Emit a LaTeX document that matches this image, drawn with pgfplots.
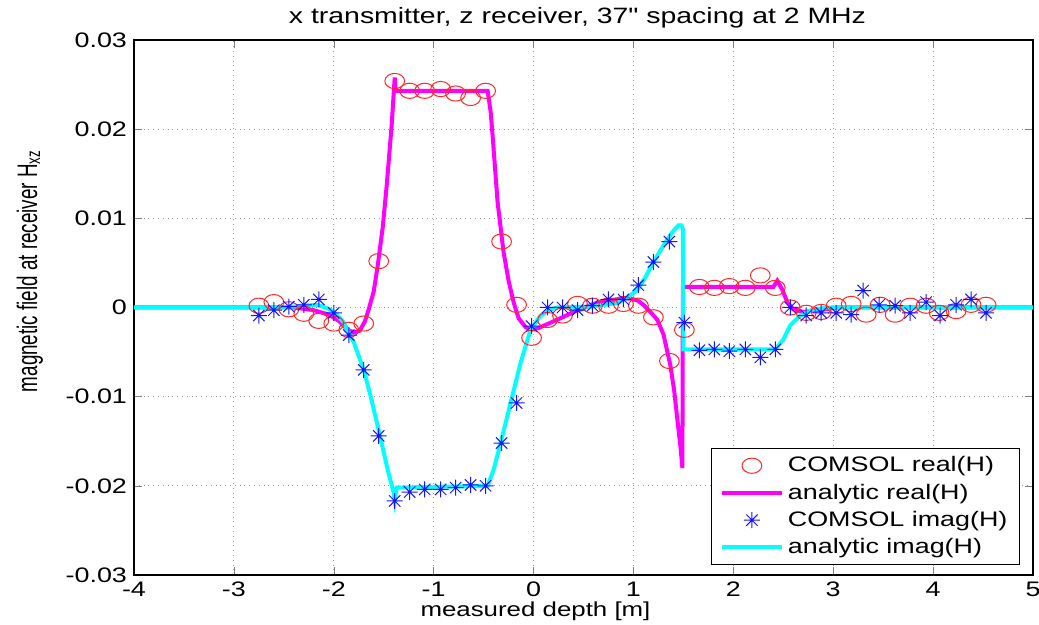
\documentclass[border=0pt]{standalone}
\usepackage{fontspec}
\usepackage{graphicx}
\setmainfont{Liberation Sans}
\newfontfamily\widefont[FakeStretch=1.28]{Liberation Sans}
\usepackage{pgfplots}
\pgfplotsset{compat=1.18}
\definecolor{mlred}{RGB}{255,40,40}
\definecolor{mlblue}{RGB}{20,20,255}
\definecolor{mlmag}{RGB}{255,0,255}
\definecolor{mlcyan}{RGB}{0,255,255}

% 8-spoke asterisk like MATLAB's '*'
\pgfdeclareplotmark{ast8}{%
  \pgfpathmoveto{\pgfqpoint{-\pgfplotmarksize}{0pt}}\pgfpathlineto{\pgfqpoint{\pgfplotmarksize}{0pt}}%
  \pgfpathmoveto{\pgfqpoint{0pt}{-\pgfplotmarksize}}\pgfpathlineto{\pgfqpoint{0pt}{\pgfplotmarksize}}%
  \pgfpathmoveto{\pgfqpoint{-0.707\pgfplotmarksize}{-0.707\pgfplotmarksize}}\pgfpathlineto{\pgfqpoint{0.707\pgfplotmarksize}{0.707\pgfplotmarksize}}%
  \pgfpathmoveto{\pgfqpoint{-0.707\pgfplotmarksize}{0.707\pgfplotmarksize}}\pgfpathlineto{\pgfqpoint{0.707\pgfplotmarksize}{-0.707\pgfplotmarksize}}%
  \pgfusepathqstroke}

\begin{document}
\begin{tikzpicture}
\path[use as bounding box] (-67pt,-25pt) rectangle (452.5pt,287.5pt);
\begin{axis}[
  at={(0,0)}, anchor=south west,
  scale only axis, width=449.5pt, height=267.5pt,
  xmin=-4, xmax=5, ymin=-0.03, ymax=0.03,
  xtick={-4,-3,...,5},
  ytick={-0.03,-0.02,-0.01,0,0.01,0.02,0.03},
  yticklabels={-0.03,-0.02,-0.01,0,0.01,0.02,0.03},
  scaled y ticks=false,
  /pgf/number format/assume math mode=true,
  tick label style={font=\widefont\fontsize{10.5}{12}\selectfont},
  tick align=inside, major tick length=4pt,
  grid=major, grid style={dotted, gray!80},
  axis line style={black, line width=0.6pt},
  every axis title shift=0pt,
  title={x transmitter, z receiver, 37" spacing at 2 MHz},
  title style={font=\widefont\fontsize{11.1}{13}\selectfont, at={(axis description cs:0.5,1)}, anchor=base, yshift=8pt, xshift=-3pt},
  xlabel={measured depth [m]},
  xlabel style={font=\widefont\fontsize{10.1}{12}\selectfont, at={(axis description cs:0.5,0)}, anchor=base, yshift=-21pt, xshift=-24pt},
  ylabel={\scalebox{1}[1.5]{magnetic field at receiver H\textsubscript{xz}}},
  ylabel style={font=\fontsize{9.4}{11}\selectfont, at={(axis description cs:-0.116,0.568)}, anchor=center},
  legend style={at={(rel axis cs:0.9855,0.0187)}, anchor=south east,
    font=\widefont\fontsize{10.5}{12}\selectfont, draw=black, line width=0.5pt,
    cells={anchor=west}, row sep=0.5pt, inner xsep=4pt, inner ysep=2pt},
  legend image code/.code={\draw[mark repeat=2,mark phase=2,#1] plot coordinates {(0pt,0pt) (15pt,0pt) (30pt,0pt)};},
]
% COMSOL real(H)
\addplot[only marks, mark=o, mark size=3.8pt, mark options={xscale=1.3, draw=mlred, line width=0.5pt}] coordinates {
(-2.75,0.0002)(-2.60,0.0006)(-2.45,-0.0002)(-2.30,-0.0007)(-2.15,-0.0015)(-2.00,-0.0018)
(-1.85,-0.0025)(-1.70,-0.0018)(-1.55,0.0052)(-1.39,0.0254)(-1.24,0.0243)(-1.09,0.0243)
(-0.93,0.0245)(-0.78,0.0240)(-0.63,0.0235)(-0.48,0.0243)(-0.32,0.0074)(-0.17,0.0003)
(-0.02,-0.0034)(0.14,-0.0014)(0.29,-0.0009)(0.44,0.0004)(0.59,0.0002)(0.75,0.0002)
(0.90,0.0004)(1.05,0.0002)(1.20,-0.0011)(1.36,-0.0060)(1.51,-0.0025)(1.66,0.0023)
(1.81,0.0022)(1.96,0.0024)(2.12,0.0022)(2.27,0.0036)(2.42,0.0022)(2.57,0.0000)
(2.73,-0.0006)(2.88,-0.0005)(3.03,0.0002)(3.18,0.0004)(3.33,-0.0008)(3.47,0.0003)
(3.62,-0.0008)(3.77,0.0002)(3.93,0.0002)(4.06,-0.0006)(4.23,-0.0004)(4.38,0.0003)(4.53,0.0003)};
\addlegendentry{COMSOL real(H)}
% analytic real(H)
\addplot[mlmag, line width=2pt] coordinates {
(-4,0)(-2.4,0)(-2.2,-0.0003)(-2.05,-0.0008)(-1.95,-0.0015)(-1.86,-0.0025)(-1.8,-0.0028)
(-1.74,-0.0026)(-1.69,-0.0016)(-1.65,-0.0002)(-1.6,0.0018)(-1.56,0.0047)(-1.51,0.0090)
(-1.47,0.0137)(-1.42,0.0205)(-1.39,0.0258)(-1.38,0.0243)(-0.46,0.0243)(-0.43,0.0220)
(-0.41,0.0193)(-0.36,0.0118)(-0.30,0.0062)(-0.25,0.0030)(-0.20,0.0006)(-0.15,-0.0012)
(-0.08,-0.0022)(-0.02,-0.0025)(0.05,-0.0023)(0.15,-0.0018)(0.29,-0.0011)(0.44,-0.0003)
(0.6,0.0004)(0.74,0.0008)(0.9,0.0010)(0.97,0.0010)(1.04,0.0008)(1.1,0.0003)(1.17,-0.0005)
(1.24,-0.0014)(1.3,-0.0030)(1.37,-0.0065)(1.41,-0.0095)(1.44,-0.0126)(1.47,-0.0155)
(1.49,-0.0180)(1.495,0.0023)(2.40,0.0023)(2.44,0.0030)(2.49,0.0020)(2.54,0.0006)
(2.6,-0.0002)(2.7,-0.0005)(2.87,-0.0003)(3.04,0)(5,0)};
\addlegendentry{analytic real(H)}
% COMSOL imag(H)
\addplot[only marks, mark=ast8, mark size=4pt, mark options={draw=mlblue, line width=0.5pt}] coordinates {
(-2.75,-0.0009)(-2.60,-0.0003)(-2.45,0.0001)(-2.30,0.0003)(-2.15,0.0009)(-2.00,-0.0006)
(-1.85,-0.0031)(-1.70,-0.0070)(-1.55,-0.0144)(-1.39,-0.0217)(-1.24,-0.0207)(-1.09,-0.0204)
(-0.93,-0.0204)(-0.78,-0.0202)(-0.63,-0.0199)(-0.48,-0.0200)(-0.32,-0.0152)(-0.17,-0.0107)
(-0.02,-0.0021)(0.14,0.0000)(0.29,0.0000)(0.44,-0.0003)(0.59,0.0002)(0.75,0.0009)
(0.90,0.0009)(1.05,0.0025)(1.20,0.0051)(1.36,0.0074)(1.51,-0.0017)(1.66,-0.0048)
(1.81,-0.0047)(1.96,-0.0049)(2.12,-0.0047)(2.27,-0.0056)(2.42,-0.0047)(2.57,0.0000)
(2.73,-0.0009)(2.88,-0.0006)(3.03,-0.0006)(3.18,-0.0008)(3.30,0.0019)(3.46,0.0003)
(3.62,0.0002)(3.77,-0.0006)(3.93,0.0006)(4.07,-0.0009)(4.23,0.0003)(4.38,0.0009)(4.53,-0.0006)};
\addlegendentry{COMSOL imag(H)}
% analytic imag(H)
\addplot[mlcyan, line width=2pt] coordinates {
(-4,0)(-2.5,0)(-2.3,0.0002)(-2.16,0.0003)(-2.04,-0.0002)(-1.97,-0.0008)(-1.9,-0.0017)
(-1.8,-0.0039)(-1.7,-0.0070)(-1.63,-0.0100)(-1.56,-0.0133)(-1.46,-0.0182)(-1.40,-0.0208)
(-1.39,-0.0216)(-1.37,-0.0202)(-0.46,-0.0200)(-0.40,-0.0182)(-0.33,-0.0152)(-0.23,-0.0107)
(-0.13,-0.0062)(-0.03,-0.0025)(0.07,-0.0009)(0.17,-0.0002)(0.24,0)(0.57,0.0001)
(0.84,0.0005)(0.94,0.0011)(1.04,0.0020)(1.12,0.0034)(1.2,0.0051)(1.32,0.0073)(1.40,0.0086)
(1.45,0.0092)(1.48,0.0092)(1.495,0.0088)(1.50,-0.0047)(2.42,-0.0047)(2.50,-0.0036)
(2.57,-0.0020)(2.67,-0.0009)(2.8,-0.0002)(2.97,0)(5,0)};
\addlegendentry{analytic imag(H)}
\end{axis}
\end{tikzpicture}
\end{document}
